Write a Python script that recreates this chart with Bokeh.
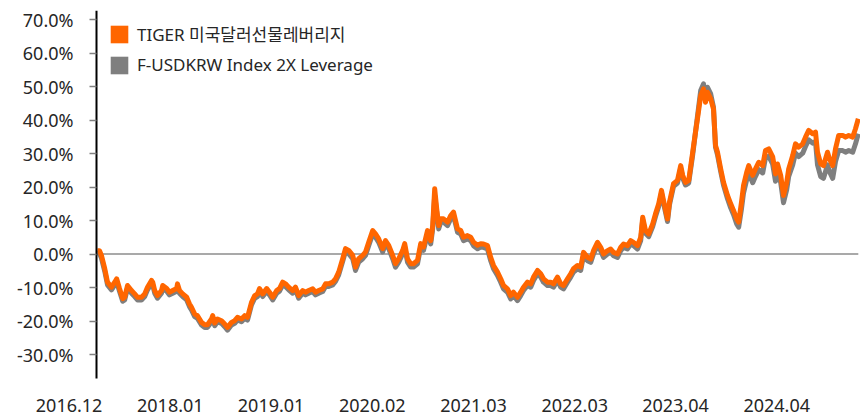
from bokeh.plotting import figure
from bokeh.models import (ColumnDataSource, Range1d, FixedTicker, PrintfTickFormatter,
                          Legend, LegendItem)
from bokeh.embed import file_html
from bokeh.resources import INLINE

# trading-day index since 2016.12 (x), cumulative return in % (y)
day_idx = [0, 5, 10, 18, 25, 35, 43, 48, 55, 63, 68, 75, 85, 93, 100, 110, 118, 125, 135, 138,
           143, 150, 160, 163, 173, 180, 188, 198, 200, 205, 213, 223, 230, 235, 243, 250, 260, 268,
           275, 285, 288, 293, 300, 310, 318, 325, 335, 343, 350, 360, 368, 375, 385, 393, 400, 405,
           413, 423, 430, 438, 448, 455, 463, 470, 478, 488, 495, 503, 513, 520, 528, 538, 545, 553,
           563, 570, 578, 588, 595, 603, 613, 620, 628, 638, 645, 653, 663, 670, 678, 688, 695, 703,
           713, 720, 728, 738, 745, 753, 763, 768, 775, 783, 790, 800, 808, 815, 825, 833, 838, 843,
           848, 853, 858, 865, 875, 883, 890, 900, 908, 915, 925, 933, 940, 950, 958, 965, 975, 983,
           990, 1000, 1008, 1015, 1025, 1033, 1040, 1050, 1058, 1065, 1075, 1083, 1090, 1100, 1108,
           1115, 1125, 1133, 1140, 1150, 1158, 1165, 1175, 1183, 1190, 1200, 1208, 1215, 1225, 1233,
           1240, 1250, 1258, 1265, 1275, 1283, 1290, 1300, 1308, 1315, 1325, 1333, 1340, 1350, 1358,
           1363, 1370, 1378, 1388, 1395, 1403, 1410, 1415, 1425, 1430, 1440, 1450, 1458, 1463, 1470,
           1478, 1488, 1495, 1500, 1508, 1515, 1520, 1525, 1533, 1540, 1545, 1550, 1558, 1565, 1575,
           1583, 1590, 1598, 1603, 1610, 1615, 1623, 1628, 1638, 1645, 1653, 1663, 1670, 1678, 1688,
           1695, 1700, 1708, 1715, 1723, 1728, 1738, 1745, 1753, 1763, 1770, 1778, 1788, 1795, 1800,
           1808, 1815, 1825, 1830, 1838, 1845, 1853, 1863, 1870, 1878, 1888, 1895, 1902]

tiger = [1.0, 1.0, -0.5, -4.3, -8.4, -9.9, -8.4, -7.4, -10.3, -13.3, -12.9, -9.4, -10.9, -11.9, -12.9,
         -12.9, -11.9, -9.9, -7.9, -8.4, -10.9, -12.4, -10.9, -9.4, -10.3, -11.4, -10.9, -10.3, -8.9,
         -10.9, -11.9, -12.9, -14.9, -15.9, -17.9, -18.4, -20.4, -21.1, -21.1, -19.4, -18.4, -20.6,
         -19.4, -19.9, -20.9, -21.9, -20.4, -19.9, -18.9, -19.4, -18.4, -18.9, -14.4, -12.4, -11.9,
         -10.3, -11.9, -10.3, -11.4, -12.9, -10.9, -10.3, -8.4, -8.9, -9.9, -10.9, -9.9, -12.4, -10.9,
         -11.4, -10.9, -10.4, -11.4, -10.9, -10.4, -8.9, -8.9, -8.4, -7.4, -5.4, -1.4, 1.6, 1.1, -0.4,
         -3.9, -1.4, -0.4, 0.6, 3.5, 7.0, 6.0, 4.5, 1.6, 4.0, 2.6, -0.4, -2.9, -1.4, 1.1, 3.1, -1.4,
         -2.9, -2.9, -1.9, 3.1, 2.1, 7.0, 4.0, 8.5, 19.5, 13.5, 8.5, 10.5, 10.5, 9.5, 11.5, 12.5, 7.5,
         7.0, 5.0, 5.5, 5.0, 3.5, 2.6, 3.1, 3.0, 2.5, -1.0, -3.4, -5.4, -7.4, -9.4, -10.4, -12.4, -11.4,
         -12.9, -11.4, -9.9, -8.4, -8.9, -6.9, -4.9, -5.9, -7.4, -8.4, -8.4, -8.9, -6.9, -8.9, -9.4,
         -7.4, -5.9, -4.4, -3.4, -3.9, 0.5, -1.0, -1.5, 1.0, 3.5, 2.0, 0.0, 1.0, 1.5, 0.5, 0.0, 2.0,
         3.0, 2.5, 4.0, 3.5, 2.5, 5.0, 11.0, 7.0, 6.0, 9.0, 12.0, 15.0, 19.0, 16.0, 10.5, 15.5, 21.0,
         22.0, 26.4, 23.5, 21.4, 22.0, 30.4, 36.4, 40.4, 47.3, 49.3, 45.3, 48.3, 46.3, 43.3, 32.4,
         30.4, 25.4, 21.4, 17.5, 15.0, 13.0, 10.5, 9.5, 15.5, 20.4, 24.4, 26.4, 23.5, 25.4, 27.4,
         26.4, 30.9, 31.4, 29.0, 23.9, 26.9, 23.5, 17.5, 21.4, 25.4, 29.4, 32.9, 31.9, 32.9, 34.9,
         36.9, 35.9, 36.4, 30.4, 26.9, 26.4, 30.4, 28.4, 26.4, 31.4, 35.4, 35.4, 34.9, 35.4, 34.9,
         37.4, 40.4]

index2x = [0.2, 0.2, -1.3, -5.1, -9.2, -10.7, -9.2, -8.2, -11.1, -14.1, -13.7, -10.2, -11.7, -12.7,
           -13.7, -13.7, -12.7, -10.7, -8.7, -9.2, -11.7, -13.2, -11.7, -10.2, -11.1, -12.2, -11.7,
           -11.1, -9.7, -11.7, -12.7, -13.7, -15.7, -16.7, -18.7, -19.2, -21.2, -21.9, -21.9, -20.2,
           -19.2, -21.4, -20.2, -20.7, -21.7, -22.7, -21.2, -20.7, -19.7, -20.2, -19.2, -19.7, -15.2,
           -13.2, -12.7, -11.1, -12.7, -11.1, -12.2, -13.7, -11.7, -11.1, -9.2, -9.7, -10.7, -11.7,
           -10.7, -13.2, -11.7, -12.2, -11.7, -11.2, -12.2, -11.7, -11.2, -9.7, -9.7, -9.2, -8.2, -6.2,
           -2.2, 0.8, 0.1, -1.4, -4.9, -2.4, -1.4, -0.4, 2.5, 6.0, 5.0, 3.5, 0.6, 3.0, 1.6, -1.4, -3.9,
           -2.4, 0.1, 2.1, -2.4, -3.9, -3.9, -2.9, 2.1, 1.1, 6.0, 3.0, 7.5, 17.5, 12.5, 7.5, 9.5, 9.5,
           8.5, 10.5, 11.5, 6.5, 6.0, 4.0, 4.5, 4.0, 2.5, 1.6, 2.1, 2.0, 1.5, -2.0, -4.4, -6.4, -8.4,
           -10.4, -11.4, -13.4, -12.4, -13.9, -12.4, -10.9, -9.4, -9.9, -7.9, -5.9, -6.9, -8.4, -9.4,
           -9.4, -9.9, -7.9, -9.9, -10.4, -8.4, -6.9, -5.4, -4.4, -4.9, -0.5, -2.0, -2.5, 0.0, 2.5, 1.0,
           -1.0, 0.0, 0.5, -0.5, -1.0, 1.0, 2.0, 1.5, 3.0, 2.5, 1.5, 4.0, 10.2, 6.2, 5.2, 8.2, 11.2,
           14.2, 18.2, 15.2, 9.7, 14.7, 20.2, 21.2, 25.6, 22.7, 20.6, 21.2, 29.6, 36.4, 41.2, 48.8,
           50.8, 46.8, 49.8, 47.8, 43.8, 31.9, 29.6, 24.6, 20.6, 16.5, 13.8, 11.8, 9.0, 8.0, 13.5, 18.2,
           22.2, 24.2, 21.3, 23.2, 25.2, 24.2, 28.7, 29.2, 26.8, 21.7, 24.7, 21.3, 15.3, 19.2, 23.2,
           26.6, 30.1, 29.1, 30.1, 32.1, 34.1, 33.1, 33.6, 26.6, 23.1, 22.6, 26.6, 24.6, 22.6, 27.6,
           30.9, 30.9, 30.4, 30.9, 30.4, 32.9, 35.9]

# category label positions (trading-day index where each label is centred)
tick_days = [-71, 182, 434, 687, 940, 1193, 1445, 1698]
tick_labels = ["2016.12", "2018.01", "2019.01", "2020.02", "2021.03", "2022.03", "2023.04", "2024.04"]
y_ticks = [-30, -20, -10, 0, 10, 20, 30, 40, 50, 60, 70]
y_lo, y_hi = -37.2, 72.7
series_names = ["TIGER 미국달러선물레버리지", "F-USDKRW Index 2X Leverage"]

ORANGE = "#ff6600"
GRAY = "#7f7f7f"
TXT = "#262626"

src = ColumnDataSource(dict(x=day_idx, tiger=tiger, idx=index2x))

p = figure(width=860, height=417, output_backend="svg", toolbar_location=None,
           x_range=Range1d(-242.5, 1907.5), y_range=Range1d(-48.8, y_hi),
           min_border_left=0, min_border_right=0, min_border_top=10, min_border_bottom=0)
p.outline_line_color = None
p.grid.visible = False
p.background_fill_color = "white"
p.border_fill_color = "white"

# zero reference line across the data span
p.segment(x0=[day_idx[0]], x1=[day_idx[-1]], y0=[0], y1=[0], line_color="#8c8c8c", line_width=1.5)

r_gray = p.line("x", "idx", source=src, line_color=GRAY, line_width=5, line_join="round")
r_or = p.line("x", "tiger", source=src, line_color=ORANGE, line_width=5, line_join="round")

# zero-size boxes used only to give the legend square swatches
sw_or = p.rect(x="x", y="tiger", width=0, height=0, source=src, fill_color=ORANGE, line_color=None)
sw_gr = p.rect(x="x", y="idx", width=0, height=0, source=src, fill_color=GRAY, line_color=None)

legend = Legend(items=[LegendItem(label=series_names[0], renderers=[sw_or]),
                       LegendItem(label=series_names[1], renderers=[sw_gr])],
                location=(108, 341), padding=12, spacing=7,
                glyph_width=22, glyph_height=22, label_standoff=7,
                label_text_font="Noto Sans, Noto Sans CJK KR", label_text_font_size="17px",
                label_text_color=TXT, background_fill_alpha=0, border_line_color=None)
p.add_layout(legend)

yax = p.yaxis[0]
yax.fixed_location = -2.5
yax.bounds = (y_lo, y_hi)
yax.ticker = FixedTicker(ticks=y_ticks)
yax.formatter = PrintfTickFormatter(format="%.1f%%")
yax.axis_line_color = "black"
yax.axis_line_width = 2
yax.major_tick_out = 7
yax.major_tick_in = 0
yax.major_tick_line_color = "#808080"
yax.major_tick_line_width = 1.5
yax.minor_tick_line_color = None
yax.major_label_standoff = 16
yax.major_label_text_font = "Noto Sans"
yax.major_label_text_font_size = "18px"
yax.major_label_text_color = TXT

xax = p.xaxis[0]
xax.fixed_location = y_lo
xax.ticker = FixedTicker(ticks=tick_days)
xax.major_label_overrides = {t: l for t, l in zip(tick_days, tick_labels)}
xax.axis_line_color = None
xax.major_tick_line_color = None
xax.minor_tick_line_color = None
xax.major_tick_out = 0
xax.major_tick_in = 0
xax.major_label_standoff = 20
xax.major_label_text_font = "Noto Sans"
xax.major_label_text_font_size = "18px"
xax.major_label_text_color = TXT

open("out.html", "w").write(file_html(p, INLINE))
